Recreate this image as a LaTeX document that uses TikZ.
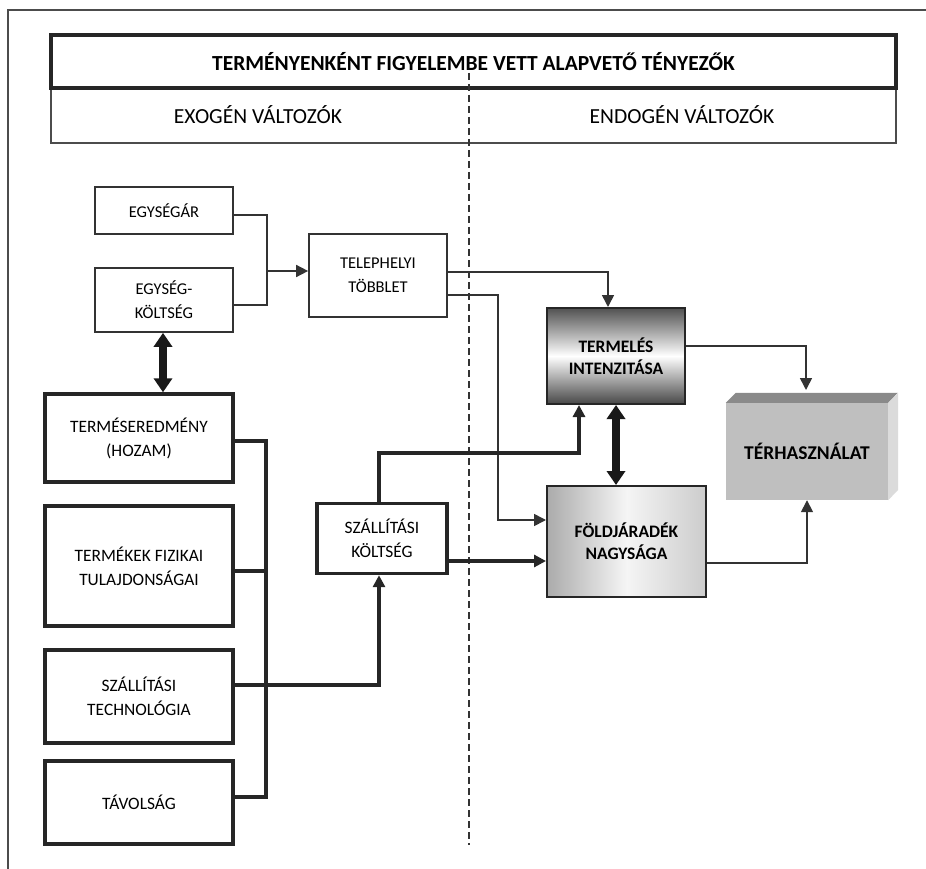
\documentclass[tikz,border=0pt]{standalone}
\usepackage{fontspec}
\setmainfont{Carlito}
\usetikzlibrary{arrows.meta, positioning, calc}

\begin{document}
\begin{tikzpicture}[x=1pt, y=-1pt,
    thinbox/.style={draw=black!80, line width=1.7pt, fill=white, align=center, font=\fontsize{16.5}{24}\selectfont},
    thickbox/.style={draw=black!85, line width=3.4pt, fill=white, align=center, font=\fontsize{17.4}{24}\selectfont},
    shadebox/.style={draw=black!85, line width=2pt, align=center, font=\fontsize{17.5}{22}\selectfont\bfseries},
    conn/.style={draw=black!80, line width=1.6pt},
    thickconn/.style={draw=black!85, line width=3.2pt},
    tip/.style={-{Triangle[length=12pt, width=12pt]}},
    bigtip/.style={{Triangle[length=14pt, width=18pt]}-{Triangle[length=14pt, width=18pt]}, draw=black!90, line width=7.5pt}
  ]
  \useasboundingbox (0,0) rectangle (926,869);

  % frame
  \draw[black!70, line width=1.4pt] (8,869) -- (8,10) -- (926,10);

  % header
  \node[draw=black!70, line width=1.5pt, minimum width=845, minimum height=55] (vars) at (473.5,115.5) {};
  \node[draw=black!85, line width=3.4pt, minimum width=845, minimum height=53, font=\fontsize{21.5}{24}\selectfont\bfseries] (title) at (473.5,61.5) {TERMÉNYENKÉNT FIGYELEMBE VETT ALAPVETŐ TÉNYEZŐK};
  \node[font=\fontsize{21.5}{24}\selectfont] (exo) at (258,115) {EXOGÉN VÁLTOZÓK};
  \node[font=\fontsize{21.5}{24}\selectfont] (endo) at (682,115) {ENDOGÉN VÁLTOZÓK};

  % divider
  \draw[black!80, line width=1.4pt, dash pattern=on 7pt off 4pt] (469,73) -- (469,845);

  % exogen boxes
  \node[thinbox, minimum width=138, minimum height=47] (egysegar) at (164,210.5) {EGYSÉGÁR};
  \node[thinbox, minimum width=138, minimum height=64] (egykolt) at (164,300) {EGYSÉG-\\KÖLTSÉG};
  \node[thinbox, minimum width=138, minimum height=83] (telep) at (378,275.5) {TELEPHELYI\\TÖBBLET};
  \node[thickbox, minimum width=188, minimum height=88] (termes) at (139,438) {TERMÉSEREDMÉNY\\(HOZAM)};
  \node[thickbox, minimum width=188, minimum height=120] (fizikai) at (139,566) {TERMÉKEK FIZIKAI\\TULAJDONSÁGAI};
  \node[thickbox, minimum width=188, minimum height=93] (sztech) at (139,696.5) {SZÁLLÍTÁSI\\TECHNOLÓGIA};
  \node[thickbox, minimum width=188, minimum height=83] (tavolsag) at (139,802.5) {TÁVOLSÁG};
  \node[thickbox, minimum width=130, minimum height=70] (szkolt) at (382,538.5) {SZÁLLÍTÁSI\\KÖLTSÉG};

  % endogen boxes
  \node[shadebox, minimum width=138, minimum height=96, top color=black!68, bottom color=black!72, middle color=white] (termeles) at (616,356) {TERMELÉS\\INTENZITÁSA};
  \node[shadebox, minimum width=159, minimum height=111, left color=black!33, right color=black!20, middle color=black!4] (fold) at (626.5,541.5) {FÖLDJÁRADÉK\\NAGYSÁGA};
  \node[fill=black!25, minimum width=162, minimum height=97, font=\fontsize{19.5}{22}\selectfont\bfseries] (terhasz) at (807,451.5) {TÉRHASZNÁLAT};
  \fill[black!46] (terhasz.north west) -- ++(10,-10) -- ++(162,0) -- (terhasz.north east) -- cycle;
  \fill[black!14] (terhasz.north east) -- ++(10,-10) -- ++(0,97) -- (terhasz.south east) -- cycle;

  % connectors
  \coordinate (j1) at (267,271);
  \draw[conn] ([yshift=-4.5]egysegar.east) -| (j1);
  \draw[conn] ([yshift=-5]egykolt.east) -| (j1);
  \draw[conn, tip] (j1) -- (j1 -| telep.west);
  \draw[conn, tip] ([yshift=3.5]telep.east) -| ([xshift=-8]termeles.north);
  \coordinate (k1) at (498,520);
  \draw[conn, tip] ([yshift=-19.5]telep.east) -| (k1) -- (k1 -| fold.west);
  \draw[conn, tip] ([yshift=10]termeles.east) -| (806,390);
  \draw[conn, tip] ([yshift=-21.5]fold.east) -| (terhasz.south);
  \draw[bigtip] (termeles.south) -- (termeles.south |- fold.north);
  \draw[bigtip] ([xshift=-1]egykolt.south) -- ([xshift=-1]egykolt.south |- termes.north);

  \coordinate (m1) at (579,453);
  \draw[thickconn, tip] ([xshift=-3]szkolt.north) |- (m1) -- (m1 |- termeles.south);
  \draw[thickconn, tip] ([yshift=-22.5]szkolt.east) -- ([yshift=-22.5]szkolt.east -| fold.west);
  \draw[thickconn, tip] ([yshift=11.5]sztech.east) -| ([xshift=-3]szkolt.south);

  % bus
  \coordinate (b1) at (266,441);
  \coordinate (b2) at (266,797);
  \draw[thickconn] (termes.east |- b1) -- (b1) -- (b2) -- (tavolsag.east |- b2);
  \draw[thickconn] ([yshift=-5]fizikai.east) -- ([yshift=-5]fizikai.east -| b1);
\end{tikzpicture}
\end{document}
